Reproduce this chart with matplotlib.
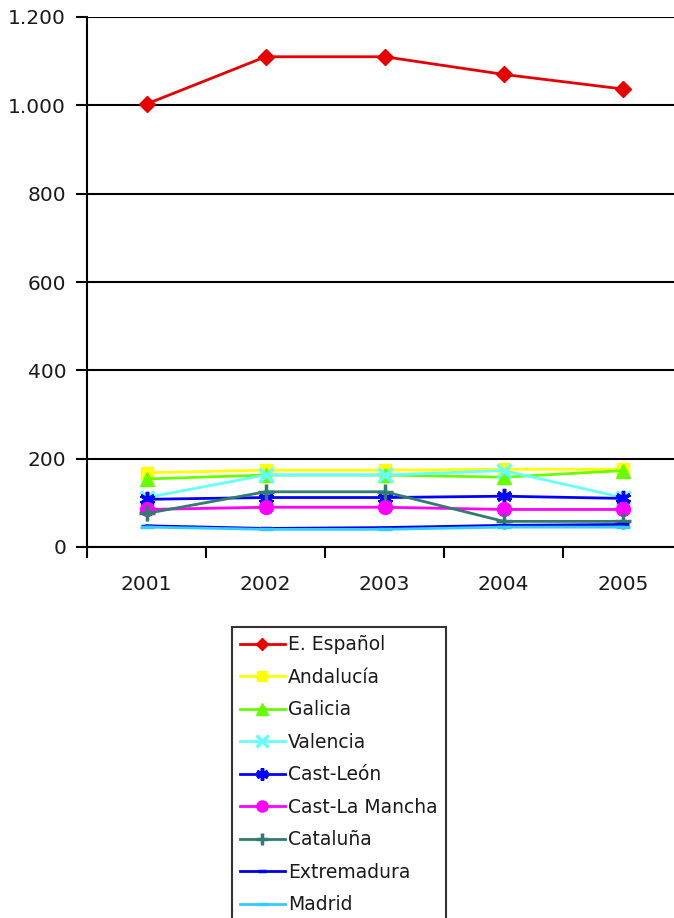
import numpy as np
import matplotlib.pyplot as plt
from matplotlib.ticker import FuncFormatter

plt.rcParams['font.family'] = ['DejaVu Sans']

years = ['2001', '2002', '2003', '2004', '2005']

espanol      = [1003, 1110, 1110, 1070, 1037]
andalucia    = [168, 174, 174, 176, 176]
galicia      = [154, 163, 163, 158, 173]
valencia     = [112, 163, 163, 173, 112]
cast_leon    = [108, 112, 112, 115, 110]
cast_mancha  = [85, 90, 90, 85, 85]
cataluna     = [76, 125, 125, 58, 58]
extremadura  = [48, 42, 44, 49, 51]
madrid       = [45, 40, 40, 45, 45]

series = [
    ('E. Español',     espanol,     '#e60000', 'D', 8),
    ('Andalucía',      andalucia,   '#ffff00', 's', 9),
    ('Galicia',        galicia,     '#66ff00', '^', 10),
    ('Valencia',       valencia,    '#66ffff', 'x', 10),
    ('Cast-León',      cast_leon,   '#0000ff', (6, 2, 0), 11),
    ('Cast-La Mancha', cast_mancha, '#ff00ff', 'o', 10),
    ('Cataluña',       cataluna,    '#2e7d6e', '+', 11),
    ('Extremadura',    extremadura, '#0000e6', '_', 8),
    ('Madrid',         madrid,      '#33ccff', '_', 10),
]

fig = plt.figure(figsize=(6.74, 9.18), dpi=100)
ax = fig.add_axes([87/674, 1 - 547/918, 1 - 87/674, 530/918])

x = np.arange(len(years))
for name, vals, col, mk, ms in series:
    mew = 2.5 if mk in ('x', '+', '_') or isinstance(mk, tuple) else 1
    ax.plot(x, vals, color=col, marker=mk, markersize=ms, linewidth=2,
            markeredgewidth=mew, label=name, clip_on=False)

ax.set_ylim(0, 1200)
ax.set_yticks(np.arange(0, 1201, 200))
ax.yaxis.set_major_formatter(FuncFormatter(lambda v, p: f'{int(v):,}'.replace(',', '.')))
ax.yaxis.grid(True, color='black', linewidth=1.5)
ax.set_axisbelow(True)

ax.set_xlim(-0.5, 4.43)
ax.set_xticks(x)
ax.set_xticklabels(years)
ax.set_xticks(np.arange(-0.5, 4.5, 1), minor=True)
ax.tick_params(axis='x', which='major', length=0, pad=20, labelsize=14.5, colors='#1a1a1a')
ax.tick_params(axis='x', which='minor', length=8, width=1.5, direction='out')
ax.tick_params(axis='y', length=8, width=1.5, labelsize=14.5, pad=7, labelcolor='#1a1a1a')

for s in ['top', 'right']:
    ax.spines[s].set_visible(False)
ax.spines['left'].set_linewidth(1.5)
ax.spines['bottom'].set_linewidth(1.5)

leg = fig.legend(loc='upper left', bbox_to_anchor=(232/674, 1 - 627/918),
                 fontsize=13.5, frameon=True, fancybox=False, edgecolor='black',
                 handlelength=2.35, handletextpad=0.2, labelspacing=0.72,
                 borderpad=0.45, borderaxespad=0, markerscale=0.8)
leg.get_frame().set_linewidth(1.5)
for t in leg.get_texts():
    t.set_color('#1a1a1a')

fig.savefig('out.png', dpi=100)
